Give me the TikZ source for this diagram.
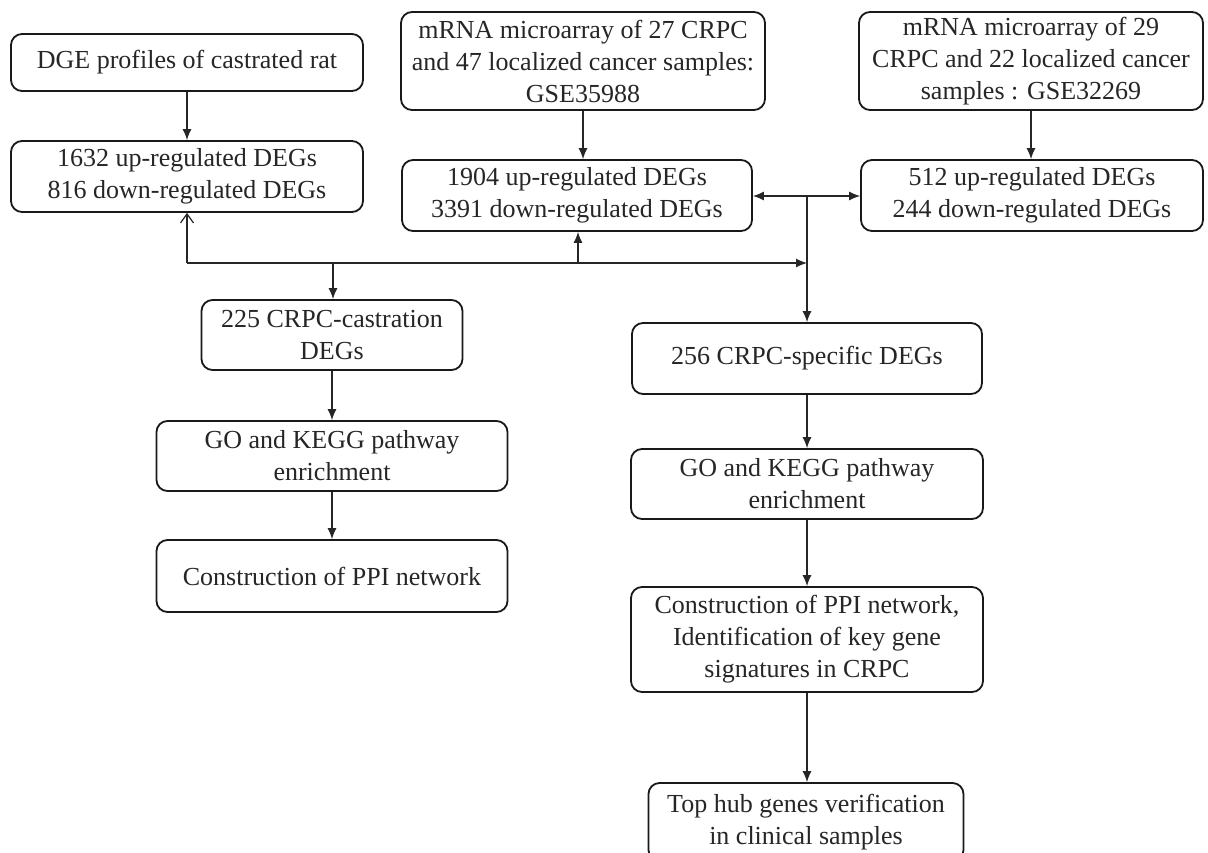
\documentclass[tikz,border=0pt]{standalone}
\usepackage{fontspec}
\setmainfont{Liberation Serif}
\usetikzlibrary{arrows.meta}
\begin{document}
\begin{tikzpicture}[x=1pt,y=-1pt,
  box/.style={draw=black!90, line width=1.8pt, rounded corners=11pt, align=center,
    inner sep=0pt, font=\fontsize{26}{32}\selectfont, text=black!85},
  arr/.style={draw=black!85, line width=1.2pt, -{Latex[length=11pt,width=9pt]}},
  openarr/.style={draw=black!85, line width=1.2pt, -{Straight Barb[length=9pt,width=13pt]}},
  dblarr/.style={draw=black!85, line width=1.2pt, {Latex[length=11pt,width=9pt]}-{Latex[length=11pt,width=9pt]}},
  ln/.style={draw=black!85, line width=1.2pt}]
\clip (0,0) rectangle (1208,852);
\fill[white] (0,0) rectangle (1208,852);

% top row
\node[box, minimum width=352pt, minimum height=57pt] (A) at (187,62.5) {DGE profiles of castrated rat};
\node[box, minimum width=352pt, minimum height=71pt] (B) at (187,176.5) {1632 up-regulated DEGs\\816 down-regulated DEGs};
\node[box, minimum width=364pt, minimum height=98pt] (C) at (583,61) {mRNA microarray of 27 CRPC\\and 47 localized cancer samples:\\GSE35988};
\node[box, minimum width=350pt, minimum height=71pt] (D) at (577,195.5) {1904 up-regulated DEGs\\3391 down-regulated DEGs};
\node[box, minimum width=344pt, minimum height=98pt] (E) at (1031,61) {mRNA microarray of 29\\CRPC and 22 localized cancer\\samples : GSE32269};
\node[box, minimum width=342pt, minimum height=71pt] (F) at (1032,195.5) {512 up-regulated DEGs\\244 down-regulated DEGs};

% left column
\node[box, minimum width=261pt, minimum height=70pt] (G) at (332,335) {225 CRPC-castration\\DEGs};
\node[box, minimum width=351pt, minimum height=70pt] (H) at (332,456) {GO and KEGG pathway\\enrichment};
\node[box, minimum width=351pt, minimum height=72pt] (I) at (332,576) {Construction of PPI network};

% right column
\node[box, minimum width=350pt, minimum height=71pt] (J) at (807,358.5) {256 CRPC-specific DEGs};
\node[box, minimum width=352pt, minimum height=70pt] (K) at (807,484) {GO and KEGG pathway\\enrichment};
\node[box, minimum width=352pt, minimum height=105pt] (L) at (807,639.5) {Construction of PPI network,\\Identification of key gene\\signatures in CRPC};
\node[box, minimum width=315pt, minimum height=78pt] (M) at (806,822) {Top hub genes verification\\in clinical samples};

% junction points
\coordinate (jL) at (187,263);
\coordinate (jG) at (333,263);
\coordinate (jD) at (578,263);
\coordinate (jR) at (807,263);
\coordinate (jT) at (807,196);

% vertical arrows
\draw[arr] (A.south) -- (B.north);
\draw[arr] (C.south) -- (C.south |- D.north);
\draw[arr] (E.south) -- (E.south |- F.north);
\draw[dblarr] (D.east |- jT) -- (F.west |- jT);
\draw[arr] (jT) -- (jT |- J.north);

% horizontal distribution line
\draw[arr] (jL) -- (jR);
\draw[openarr] (jL) -- (B.south);
\draw[arr] (jD) -- (jD |- D.south);
\draw[arr] (jG) -- (jG |- G.north);

% left chain
\draw[arr] (G.south) -- (G.south |- H.north);
\draw[arr] (H.south) -- (I.north);

% right chain
\draw[arr] (J.south) -- (J.south |- K.north);
\draw[arr] (K.south) -- (K.south |- L.north);
\draw[arr] (L.south) -- (L.south |- M.north);
\end{tikzpicture}
\end{document}
